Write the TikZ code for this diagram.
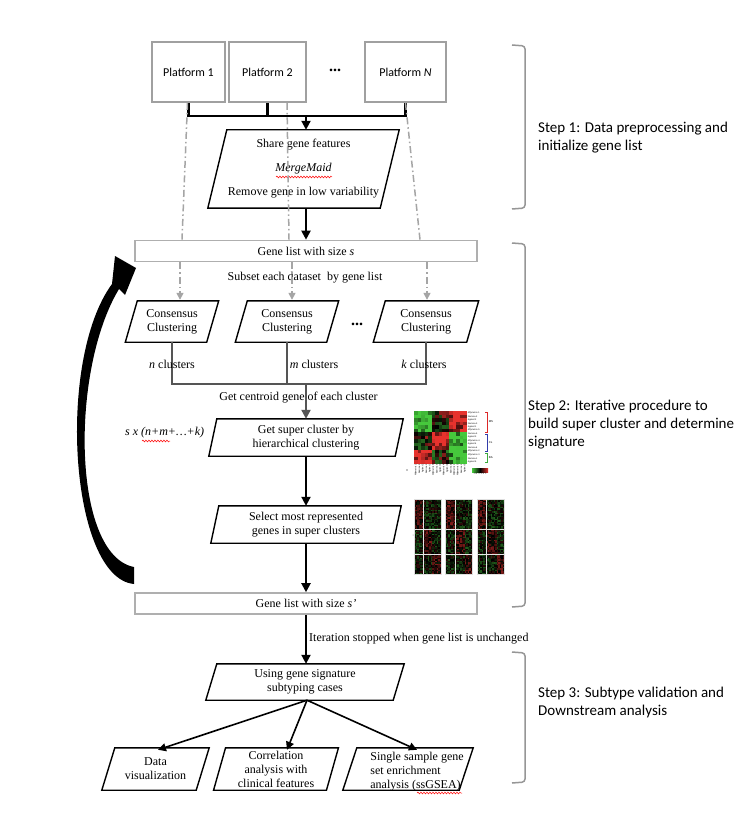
\documentclass[tikz,border=0pt]{standalone}
\usepackage{fontspec}
\setmainfont{Liberation Serif}
\newfontfamily\calfont{Carlito}
\newfontfamily\labfont{Liberation Sans}
\usetikzlibrary{arrows.meta,decorations.pathmorphing,calc}

\definecolor{framegray}{RGB}{160,160,160}
\definecolor{bargray}{RGB}{175,175,175}
\definecolor{dashgray}{RGB}{165,165,165}
\definecolor{joingray}{RGB}{85,85,85}
\definecolor{bracegray}{RGB}{150,150,150}
\definecolor{hmgreen}{RGB}{70,200,60}
\definecolor{hmred}{RGB}{230,50,45}
\definecolor{msred}{RGB}{220,40,40}
\definecolor{clblue}{RGB}{50,60,170}
\definecolor{bagreen}{RGB}{60,170,60}

% outline of a slanted (parallelogram) box around a named node
\newcommand\slantoutline[2]{%
  \draw[pgram] ([xshift=#2pt]#1.north west) -- ([xshift=#2pt]#1.north east)
    -- ([xshift=-#2pt]#1.south east) -- ([xshift=-#2pt]#1.south west) -- cycle;}

\begin{document}
\begin{tikzpicture}[x=1pt,y=-1pt,
  txt/.style={font=\fontsize{12}{14}\selectfont, align=center, inner sep=0pt},
  platform/.style={draw=framegray, line width=1.8pt, minimum height=60pt,
    font=\calfont\fontsize{12}{14}\selectfont, inner sep=0pt},
  listbar/.style={txt, draw=bargray, line width=1.6pt, minimum width=342pt, minimum height=21pt},
  slanted/.style={txt, draw=none},
  pgram/.style={draw=black, line width=1.4pt, line join=miter},
  joinline/.style={line width=2.2pt},
  flowarrow/.style={line width=2pt, -{Triangle[length=9pt,width=9pt]}},
  fanarrow/.style={line width=1.6pt, -{Triangle[length=8pt,width=8pt]}},
  grayjoin/.style={draw=joingray, line width=1.8pt},
  grayjoinarrow/.style={draw=joingray, line width=2.2pt, -{Triangle[length=9pt,width=9pt]}},
  dashdot/.style={draw=dashgray, line width=1.5pt, dash pattern=on 7pt off 3pt on 1.5pt off 3pt},
  dashdotarrow/.style={dashdot, -{Triangle[length=7pt,width=7pt]}},
  bracket/.style={draw=bracegray, line width=1.5pt, rounded corners=3pt},
  steplabel/.style={font=\calfont\fontsize{15}{18}\selectfont, align=left, anchor=west, inner sep=0pt},
  squiggle/.style={draw=red, line width=0.5pt, decorate,
    decoration={snake, amplitude=0.9pt, segment length=3pt}},
  tinylab/.style={font=\labfont\fontsize{2.2}{2.6}\selectfont, inner sep=0.2pt},
  ellip/.style={font=\bfseries\fontsize{16}{16}\selectfont, inner sep=0pt},
]
\useasboundingbox (0,0) rectangle (742,826);
\fill[white] (0,0) rectangle (742,826);

% ---------------- Step 1: platforms and merging ----------------
\node[platform, minimum width=73pt] (p1) at (188.5,72) {Platform 1};
\node[platform, minimum width=77pt] (p2) at (267.5,72) {Platform 2};
\node[platform, minimum width=81pt] (pN) at (405.5,72) {Platform \textit{N}};
\node[ellip] (pdots) at (335,70) {...};

\node[slanted, minimum width=172pt, minimum height=78pt] (merge) at (303.5,169)
  {Share gene features\\[10pt] \textit{MergeMaid}\\[10pt] Remove gene in low variability};
\slantoutline{merge}{9.5}

\coordinate (bus) at (306,116);
\draw[joinline] (p1.south) -- (p1.south |- bus) -- (pN.south |- bus) -- (pN.south);
\draw[joinline] (p2.south) -- (p2.south |- bus);
\draw[flowarrow] (bus) -- (bus |- merge.north);

\node[listbar] (gl1) at (306,251) {Gene list with size \textit{s}};
\draw[flowarrow] (bus |- merge.south) -- (bus |- gl1.north);

% ---------------- Step 2: iterative procedure ----------------
\node[txt] (subset) at (305,278) {Subset each dataset\ \ by gene list};

\node[slanted, minimum width=81pt, minimum height=41pt] (c1) at (172,321.5) {Consensus\\Clustering};
\node[slanted, minimum width=91pt, minimum height=41pt] (c2) at (287,321.5) {Consensus\\Clustering};
\node[slanted, minimum width=93pt, minimum height=41pt] (c3) at (426,321.5) {Consensus\\Clustering};
\slantoutline{c1}{6}
\slantoutline{c2}{6}
\slantoutline{c3}{6}
\node[ellip] (cdots) at (357,324) {...};

\foreach \b/\dx in {c1/8, c2/5, c3/1}
  \draw[dashdotarrow] ($(\b.north |- gl1.south)+(\dx,0)$) -- ($(\b.north)+(\dx,-1)$);

\coordinate (cjoin) at (306,384);
\draw[grayjoin] (c1.south) -- (c1.south |- cjoin) -- (c3.south |- cjoin) -- (c3.south);
\draw[grayjoin] (c2.south) -- (c2.south |- cjoin);

\node[txt] (nlab) at (172,364) {\textit{n} clusters};
\node[txt] (mlab) at (314,364) {\textit{m} clusters};
\node[txt] (klab) at (424,364) {\textit{k} clusters};

\node[txt] (centroid) at (298.5,398) {Get centroid gene of each cluster};

\node[slanted, minimum width=186pt, minimum height=37pt] (super) at (306,437.5)
  {Get super cluster by\\hierarchical clustering};
\slantoutline{super}{4}
\draw[grayjoinarrow] (cjoin) -- (cjoin |- super.north);

\node[txt, anchor=west, font=\itshape\fontsize{12}{14}\selectfont] (dims) at (125,433) {s x (n+m+\dots+k)};

\node[slanted, minimum width=182pt, minimum height=37pt] (select) at (306,524.5)
  {Select most represented\\genes in super clusters};
\slantoutline{select}{4}
\draw[flowarrow] (super.south) -- (super.south |- select.north);

\node[listbar] (gl2) at (306,603.5) {Gene list with size \textit{s’}};
\draw[flowarrow] (select.south) -- (select.south |- gl2.north);

% feedback arrow from the new gene list back to the first one
\fill (134,584) .. controls (70,578) and (56,360) .. (112,284)
  -- (115,256) -- (136,268) -- (125,295) -- (119,289)
  .. controls (70,370) and (72,555) .. (134,567) -- cycle;

% ---- correlation heatmap ----
\pgfmathsetseed{42}
\foreach \r in {0,...,14}{
  \foreach \c in {0,...,14}{
    \pgfmathtruncatemacro\rg{(\r>5)+(\r>10)}
    \pgfmathtruncatemacro\cg{(\c>4)+(\c>9)}
    \pgfmathtruncatemacro\ix{3*\rg+\cg}
    \pgfmathsetmacro\hv{{-0.85,0.05,0.8,0.05,0.85,-0.8,0.85,0,-0.85}[\ix]+0.55*rand}
    \pgfmathtruncatemacro\hp{min(100,abs(\hv)*115)}
    \ifdim\hv pt<0pt \def\hc{hmgreen}\else\def\hc{hmred}\fi
    \fill[fill=\hc!\hp!black] (414+3.5*\c,411+3.5*\r) rectangle ++(3.5,3.5);
  }
}
\foreach \lab [count=\i from 0] in {Affymetrix 1,Illumina 2,Agilent 2,Illumina 3,Agilent 1,
    Affymetrix 5,Illumina 5,Agilent 3,Affymetrix 4,Agilent 4,Illumina 4,Affymetrix 2,
    Affymetrix 3,Illumina 1,Agilent 5}{
  \node[tinylab, anchor=west] at (467.5,412.75+3.5*\i) {\lab};
  \node[tinylab, anchor=east, rotate=90] at (415.75+3.5*\i,464) {\lab};
}
\draw[msred, line width=0.6pt] (485,412) -- (487,412) -- (487,432) -- (485,432);
\draw[clblue, line width=0.6pt] (485,434) -- (487,434) -- (487,451) -- (485,451);
\draw[bagreen, line width=0.6pt] (485,453) -- (487,453) -- (487,462) -- (485,462);
\node[tinylab, font=\labfont\fontsize{2.8}{3}\selectfont, anchor=west] at (488.5,422) {MS};
\node[tinylab, font=\labfont\fontsize{2.8}{3}\selectfont, anchor=west] at (488.5,442.5) {CL};
\node[tinylab, font=\labfont\fontsize{2.8}{3}\selectfont, anchor=west] at (488.5,457.5) {BA};
\shade[left color=hmgreen, right color=hmred, middle color=black] (472,468) rectangle (488,472);
\node[tinylab, anchor=north] at (480,472.5) {-0.5\ \ 0\ \ 0.5\ \ 1};
\fill (407,470) circle (0.7);

% ---- expression heatmaps of the super clusters ----
\foreach \px/\cA/\cB in {414/6/12, 445/7/13, 477/6/13}{
  \foreach \i in {0,...,17}{
    \foreach \j in {0,...,49}{
      \pgfmathtruncatemacro\cb{(\i>=\cA)+(\i>=\cB)}
      \pgfmathtruncatemacro\rb{(\j>=20)+(\j>=37)}
      \pgfmathsetmacro\hv{ifthenelse(\cb==\rb,0.35,-0.2)+0.6*rand}
      \pgfmathtruncatemacro\hp{min(60,abs(\hv)*60)}
      \ifdim\hv pt<0pt \def\hc{hmgreen}\else\def\hc{hmred}\fi
      \fill[fill=\hc!\hp!black] (\px+1.5*\i,499+1.504*\j) rectangle ++(1.5,1.504);
    }
  }
  \draw[white!80!gray, line width=0.5pt] (\px,529.1) -- ++(27,0) (\px,554.6) -- ++(27,0);
  \draw[white!80!gray, line width=0.5pt] (\px+1.5*\cA,499) -- ++(0,75.2);
  \draw[white!75!gray, line width=0.4pt] (\px,499) rectangle ++(27,75.2);
}
\fill[gray] (413,535) circle (0.5);

% ---------------- Step 3: downstream analysis ----------------
\node[slanted, minimum width=187pt, minimum height=36pt] (using) at (305,682)
  {Using gene signature\\subtyping cases};
\slantoutline{using}{5.5}
\draw[flowarrow] (gl2.south) -- (gl2.south |- using.north);
\node[txt, anchor=west] (iter) at (309,639) {Iteration stopped when gene list is unchanged};

\node[slanted, minimum width=94pt, minimum height=42pt] (dA) at (155.5,769) {Data\\visualization};
\node[slanted, minimum width=112.5pt, minimum height=42pt] (dB) at (276,769)
  {Correlation\\analysis with\\clinical features};
\node[slanted, minimum width=116pt, minimum height=42pt] (dC) at (408,769) {};
\node[txt, align=left, font=\fontsize{12}{13.8}\selectfont] (dCtext) at (417,771.5)
  {Single sample gene\\set enrichment\\analysis (ssGSEA)};
\slantoutline{dA}{6.5}
\slantoutline{dB}{6}
\slantoutline{dC}{7}

\draw[fanarrow] ([xshift=2pt]using.south) -- ([xshift=2.5pt,yshift=-2pt]dA.north);
\draw[fanarrow] ([xshift=2pt]using.south) -- ([xshift=11pt,yshift=-2pt]dB.north);
\draw[fanarrow] ([xshift=2pt]using.south) -- ([xshift=9pt,yshift=-2pt]dC.north);

% spelling marks under a few words
\draw[squiggle] (276,177) -- (332,177);
\draw[squiggle] (142,441) -- (170,441);
\draw[squiggle] (417,793) -- (462,793);

% gray guide lines from each platform down to the gene list
\draw[dashdot] ([xshift=-1pt]p1.south) -- ([xshift=-124pt]gl1.north);
\draw[dashdot] ([xshift=19.5pt]p2.south) -- ([xshift=-17pt]gl1.north);
\draw[dashdot] (pN.south) -- ([xshift=114pt]gl1.north);

% ---------------- step brackets and labels ----------------
\draw[bracket] (512,45) -- (525,46) -- (525,208) -- (512,209);
\draw[bracket] (512,243) -- (525,244) -- (525,606) -- (512,607);
\draw[bracket] (512,652) -- (525,653) -- (525,782) -- (512,783);

\node[steplabel] (s1) at (538,138) {Step 1: Data preprocessing and\\initialize gene list};
\node[steplabel] (s2) at (528,425) {Step 2: Iterative procedure to\\build super cluster and determine\\signature};
\node[steplabel] (s3) at (538,702.5) {Step 3: Subtype validation and\\Downstream analysis};
\end{tikzpicture}
\end{document}
